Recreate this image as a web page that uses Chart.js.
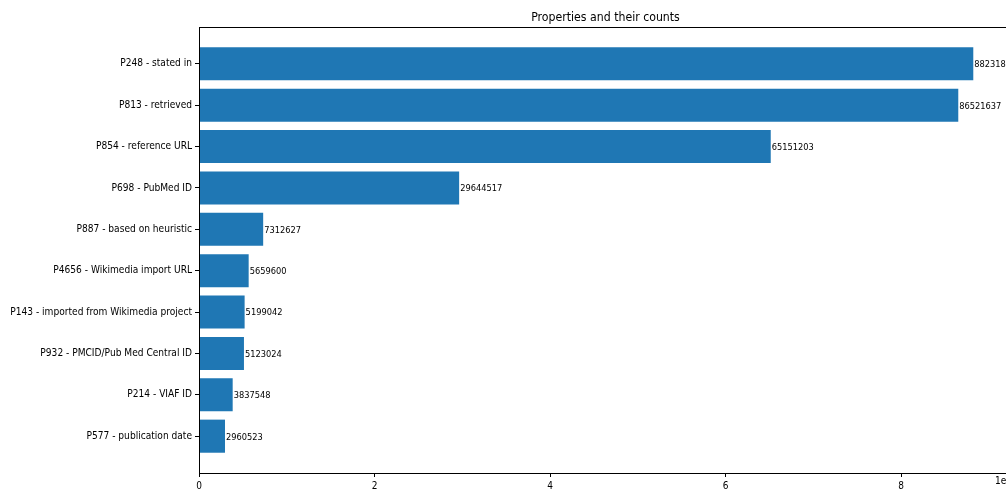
<!DOCTYPE html>
<html lang="en">
<head>
<meta charset="UTF-8">
<title>Properties and their counts</title>
<script src="https://cdn.jsdelivr.net/npm/chart.js"></script>
<style>
  body { margin: 0; overflow: hidden; background: #fff; }
  #wrap { width: 1020px; height: 497px; }
</style>
</head>
<body>
<div id="wrap"><canvas id="propChart" width="1020" height="497"></canvas></div>
<script>
// reference properties, top to bottom
const properties = [
  "P248 - stated in",
  "P813 - retrieved",
  "P854 - reference URL",
  "P698 - PubMed ID",
  "P887 - based on heuristic",
  "P4656 - Wikimedia import URL",
  "P143 - imported from Wikimedia project",
  "P932 - PMCID/Pub Med Central ID",
  "P214 - VIAF ID",
  "P577 - publication date"
];
const counts = [88231836, 86521637, 65151203, 29644517, 7312627, 5659600, 5199042, 5123024, 3837548, 2960523];
const xTicks = [0, 2e7, 4e7, 6e7, 8e7];

const FONT = "'DejaVu Sans Condensed', 'DejaVu Sans', sans-serif";

// pyplot-like margins: 5% past the longest bar, 0.4 + 5% around the bar band
const xMax = Math.max(...counts) * 1.05;
const yPad = 0.4 + 0.05 * (properties.length - 1 + 0.8);

const decorations = {
  id: 'decorations',
  afterDatasetsDraw(chart) {
    const ctx = chart.ctx, a = chart.chartArea;
    ctx.save();
    ctx.strokeStyle = '#000';
    ctx.lineWidth = 1;
    ctx.strokeRect(Math.round(a.left) + 0.5, Math.round(a.top) + 0.5,
                   Math.round(a.right - a.left), Math.round(a.bottom - a.top));

    ctx.fillStyle = '#000';
    ctx.font = `9.2px ${FONT}`;
    ctx.textAlign = 'left';
    ctx.textBaseline = 'middle';
    chart.getDatasetMeta(0).data.forEach((bar, i) => {
      ctx.fillText(String(counts[i]), bar.x + 1, bar.y + 1);
    });

    ctx.font = `12.2px ${FONT}`;
    ctx.textAlign = 'center';
    ctx.fillText('Properties and their counts', (a.left + a.right) / 2, 18);

    ctx.font = `10px ${FONT}`;
    ctx.textAlign = 'right';
    ctx.textBaseline = 'top';
    ctx.fillText('1e7', a.right, a.bottom + 3);
    ctx.restore();
  }
};

new Chart(document.getElementById('propChart'), {
  type: 'bar',
  data: {
    datasets: [{
      data: counts.map((c, i) => ({ x: c, y: i })),
      backgroundColor: '#1f77b4',
      borderWidth: 0,
      barPercentage: 0.8,
      categoryPercentage: 1
    }]
  },
  options: {
    indexAxis: 'y',
    responsive: false,
    animation: false,
    layout: { padding: { top: 27, right: 8, bottom: 2, left: 0 } },
    plugins: {
      legend: { display: false },
      tooltip: { enabled: false },
      title: { display: false }
    },
    scales: {
      x: {
        type: 'linear',
        min: 0,
        max: xMax,
        afterBuildTicks: s => { s.ticks = xTicks.map(v => ({ value: v })); },
        ticks: {
          callback: v => v / 1e7,
          color: '#000',
          font: { family: FONT, size: 10 },
          padding: 3,
          maxRotation: 0
        },
        grid: { drawOnChartArea: false, tickLength: 4, color: '#000' },
        border: { color: '#000' }
      },
      y: {
        type: 'linear',
        reverse: true,
        offset: false,
        min: -yPad,
        max: properties.length - 1 + yPad,
        afterBuildTicks: s => { s.ticks = properties.map((_, i) => ({ value: i })); },
        afterFit: s => { s.width = 199; },
        ticks: {
          callback: v => properties[v],
          color: '#000',
          font: { family: FONT, size: 10.1 },
          padding: 3
        },
        grid: { offset: false, drawOnChartArea: false, tickLength: 4, color: '#000' },
        border: { color: '#000' }
      }
    }
  },
  plugins: [decorations]
});
</script>
</body>
</html>
